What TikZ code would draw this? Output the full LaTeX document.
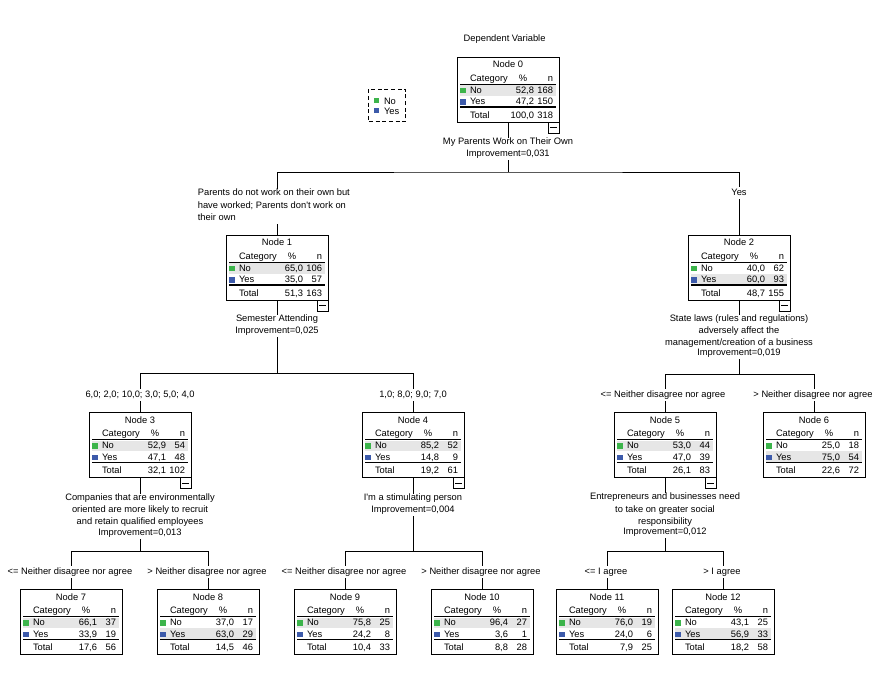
\documentclass[tikz,border=0pt]{standalone}
\usepackage{fontspec}
\setmainfont{Liberation Sans}
\usetikzlibrary{calc}
\definecolor{catgreen}{RGB}{60,180,75}
\definecolor{catblue}{RGB}{60,90,170}
\definecolor{rowgray}{RGB}{230,230,230}
\tikzset{
  tbox/.style={draw, line width=0.75pt, minimum width=76.5pt, minimum height=48.75pt, anchor=north west, inner sep=0pt, outer sep=0pt},
  txt/.style={font=\fontsize{7}{9.2}\selectfont, inner sep=0pt, outer sep=0pt},
  lbl/.style={txt, align=center, anchor=north, fill=white, inner xsep=1pt, execute at begin node=\strut},
  elbl/.style={lbl},
  conn/.style={line width=0.75pt},
  btnbox/.style={draw, line width=0.75pt, minimum size=8.25pt, inner sep=0pt, outer sep=0pt, anchor=north east},
}
% box, title, header, highlight
\newcommand\tnode[5]{%
  \node[tbox] (#1) at (#2,#3) {};
  \begin{scope}[shift={(#1.north west)}]
    \ifnum#5=1 \fill[rowgray] (3,28.2) rectangle (99,38.7);\fi
    \ifnum#5=2 \fill[rowgray] (3,38.7) rectangle (99,49.4);\fi
    \node[txt,anchor=base] (#1-title) at (51,10.8) {#4};
    \node[txt,anchor=base west] (#1-cat) at (13,24) {Category};
    \node[txt,anchor=base] (#1-pct) at (66,24) {\%};
    \node[txt,anchor=base east] (#1-n) at (96,24) {n};
    \draw[conn] (3,27.2) -- (99,27.2);
    \draw[line width=0.9pt] (3,50) -- (99,50);
    \fill[catgreen] (3.3,30.5) rectangle (8.8,36);
    \fill[catblue] (3.3,42) rectangle (8.8,47.5);
    \node[txt,anchor=base west] (#1-no) at (13,36.3) {No};
    \node[txt,anchor=base west] (#1-yes) at (13,47.8) {Yes};
    \node[txt,anchor=base west] (#1-tot) at (13,61.3) {Total};
  \end{scope}}
% numbers
\newcommand\tnums[7]{%
  \begin{scope}[shift={(#1.north west)}]
    \node[txt,anchor=base east] (#1-nop) at (77,36.3) {#2};
    \node[txt,anchor=base east] (#1-non) at (96,36.3) {#3};
    \node[txt,anchor=base east] (#1-yesp) at (77,47.8) {#4};
    \node[txt,anchor=base east] (#1-yesn) at (96,47.8) {#5};
    \node[txt,anchor=base east] (#1-totp) at (77,61.3) {#6};
    \node[txt,anchor=base east] (#1-totn) at (96,61.3) {#7};
  \end{scope}}
% collapse button
\newcommand\tbtn[1]{%
  \node[btnbox] (#1-btn) at (#1.south east) {};
  \draw[conn] ($(#1-btn.center)+(-3.2,0)$) -- ($(#1-btn.center)+(3.2,0)$);}
\begin{document}
\begin{tikzpicture}[x=0.75pt,y=-0.75pt]
\useasboundingbox[fill=white] (0,0) rectangle (882,687);

% title
\node[lbl] (title) at (504.6,33) {Dependent Variable};

% legend
\draw[line width=0.75pt, dash pattern=on 3pt off 2pt] (368,89.3) rectangle (405.7,121.7);
\fill[catgreen] (373.8,97.6) rectangle (379.3,103.1);
\fill[catblue] (373.8,107.6) rectangle (379.3,113.1);
\node[txt,anchor=base west] (legno) at (384,104) {No};
\node[txt,anchor=base west] (legyes) at (384,114) {Yes};

% nodes
\tnode{n0}{457}{57}{Node 0}{1}
\tnums{n0}{52,8}{168}{47,2}{150}{100,0}{318}
\tnode{n1}{226}{235}{Node 1}{1}
\tnums{n1}{65,0}{106}{35,0}{57}{51,3}{163}
\tnode{n2}{688}{235}{Node 2}{2}
\tnums{n2}{40,0}{62}{60,0}{93}{48,7}{155}
\tnode{n3}{89}{412.5}{Node 3}{1}
\tnums{n3}{52,9}{54}{47,1}{48}{32,1}{102}
\tnode{n4}{362}{412.5}{Node 4}{1}
\tnums{n4}{85,2}{52}{14,8}{9}{19,2}{61}
\tnode{n5}{614}{412.5}{Node 5}{1}
\tnums{n5}{53,0}{44}{47,0}{39}{26,1}{83}
\tnode{n6}{763}{412.5}{Node 6}{2}
\tnums{n6}{25,0}{18}{75,0}{54}{22,6}{72}
\tnode{n7}{20}{589.5}{Node 7}{1}
\tnums{n7}{66,1}{37}{33,9}{19}{17,6}{56}
\tnode{n8}{157}{589.5}{Node 8}{2}
\tnums{n8}{37,0}{17}{63,0}{29}{14,5}{46}
\tnode{n9}{294}{589.5}{Node 9}{1}
\tnums{n9}{75,8}{25}{24,2}{8}{10,4}{33}
\tnode{n10}{431}{589.5}{Node 10}{1}
\tnums{n10}{96,4}{27}{3,6}{1}{8,8}{28}
\tnode{n11}{556}{589.5}{Node 11}{1}
\tnums{n11}{76,0}{19}{24,0}{6}{7,9}{25}
\tnode{n12}{672}{589.5}{Node 12}{2}
\tnums{n12}{43,1}{25}{56,9}{33}{18,2}{58}

% connector junctions
\coordinate (h0) at ($(n0.south)+(0,50)$);
\coordinate (h1) at ($(n1.south)+(0,73)$);
\coordinate (h2) at ($(n2.south)+(0,74)$);
\coordinate (h3) at ($(n3.south)+(0,73.5)$);
\coordinate (h4) at ($(n4.south)+(0,74)$);
\coordinate (h5) at ($(n5.south)+(0,73.5)$);

\draw[conn] (n0.south) -- (h0);
\draw[conn] (n1.north) |- (h0) -| (n2.north);
\draw[conn] (n1.south) -- (h1);
\draw[conn] (n3.north) |- (h1) -| (n4.north);
\draw[conn] (n2.south) -- (h2);
\draw[conn] (n5.north) |- (h2) -| (n6.north);
\draw[conn] (n3.south) -- (h3);
\draw[conn] (n7.north) |- (h3) -| (n8.north);
\draw[conn] (n4.south) -- (h4);
\draw[conn] (n9.north) |- (h4) -| (n10.north);
\draw[conn] (n5.south) -- (h5);
\draw[conn] (n11.north) |- (h5) -| (n12.north);

% buttons
\tbtn{n0}\tbtn{n1}\tbtn{n2}\tbtn{n3}\tbtn{n4}\tbtn{n5}

% split labels
\node[lbl] (s0) at (508,137.5) {My Parents Work on Their Own\\Improvement=0,031};
\node[lbl] (s1) at (277,314.5) {Semester Attending\\Improvement=0,025};
\node[lbl] (s2) at (739,314.5) {State laws (rules and regulations)\\adversely affect the\\management/creation of a business\\[-1.8pt]Improvement=0,019};
\node[lbl] (s3) at (140,493.5) {Companies that are environmentally\\oriented are more likely to recruit\\and retain qualified employees\\[-1.5pt]Improvement=0,013};
\node[lbl] (s4) at (413,493.5) {I\textquotesingle m a stimulating person\\Improvement=0,004};
\node[lbl] (s5) at (665,493) {Entrepreneurs and businesses need\\to take on greater social\\responsibility\\[-1.8pt]Improvement=0,012};

% edge labels
\node[elbl, anchor=north west, align=left] (e1) at (196.5,189) {Parents do not work on their own but\\have worked; Parents don\textquotesingle t work on\\their own};
\node[elbl] (e2) at (739,186.8) {Yes};
\node[elbl] (e3) at (140,389) {6,0; 2,0; 10,0; 3,0; 5,0; 4,0};
\node[elbl] (e4) at (413,389) {1,0; 8,0; 9,0; 7,0};
\node[elbl] (e5) at (663,388.5) {<= Neither disagree nor agree};
\node[elbl] (e6) at (813,388.5) {> Neither disagree nor agree};
\node[elbl] (e7) at (70,566) {<= Neither disagree nor agree};
\node[elbl] (e8) at (207,566) {> Neither disagree nor agree};
\node[elbl] (e9) at (344,566) {<= Neither disagree nor agree};
\node[elbl] (e10) at (481,566) {> Neither disagree nor agree};
\node[elbl] (e11) at (606,566) {<= I agree};
\node[elbl] (e12) at (722,566) {> I agree};
\end{tikzpicture}
\end{document}
